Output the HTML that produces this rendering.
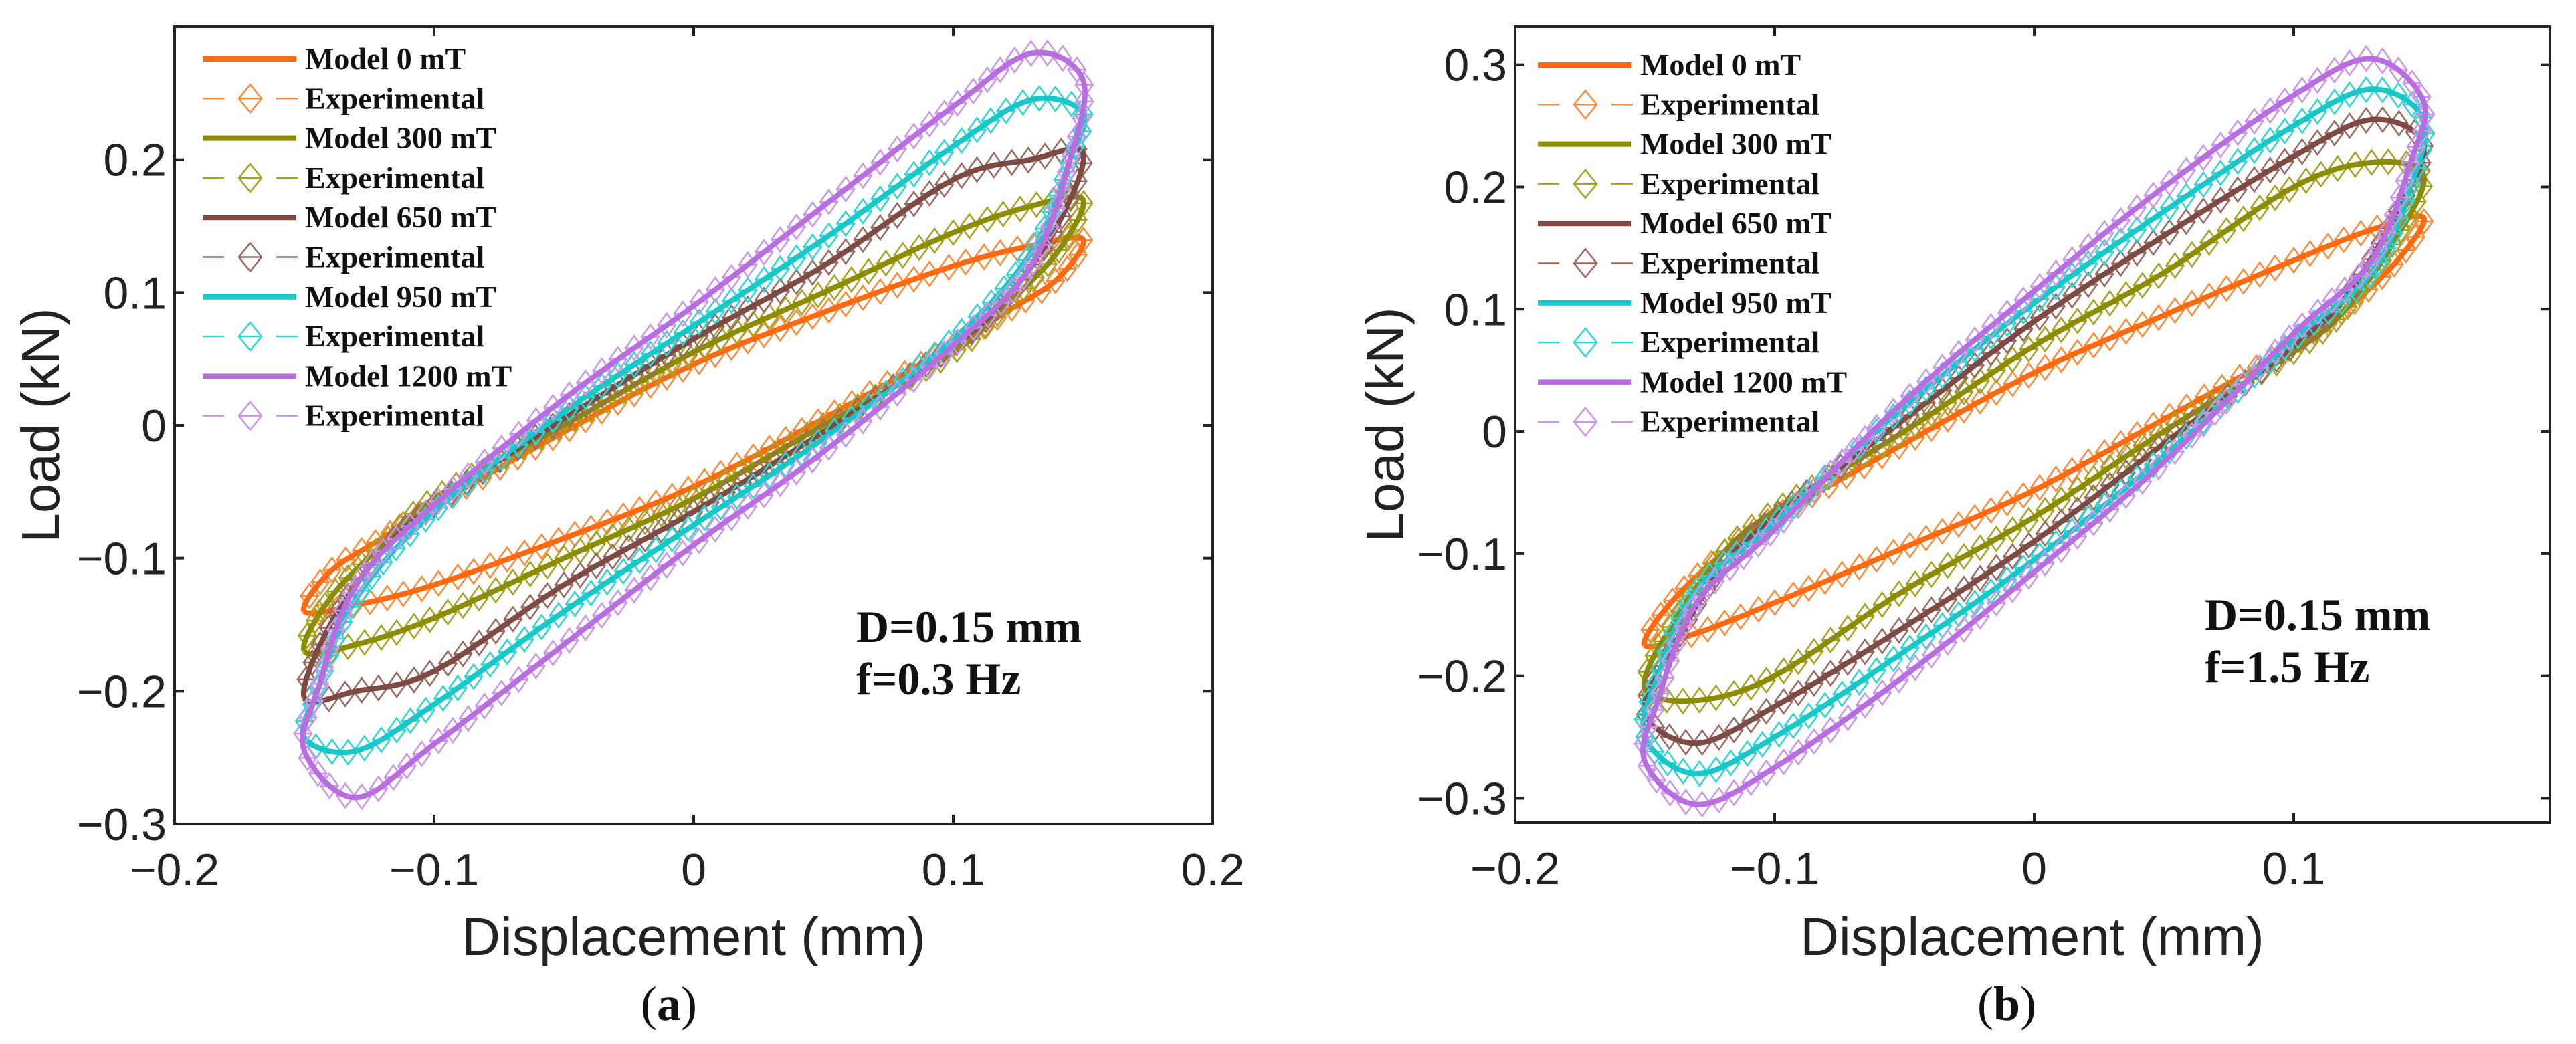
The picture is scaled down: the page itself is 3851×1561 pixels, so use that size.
<!DOCTYPE html>
<html><head><meta charset="utf-8"><style>
html,body{margin:0;padding:0;background:#fff}
svg{display:block}
text{font-family:"Liberation Sans",sans-serif}
.tick{font-size:68px;fill:#222}
.lab{font-size:80px;fill:#222}
.leg{font-family:"Liberation Serif",serif;font-weight:bold;font-size:46px;fill:#111}
.ann{font-family:"Liberation Serif",serif;font-weight:bold;font-size:68px;fill:#111}
.cap{font-family:"Liberation Serif",serif;font-size:72px;fill:#111}
</style></head><body>
<svg id="fig" width="3851" height="1561" viewBox="0 0 3851 1561" xmlns="http://www.w3.org/2000/svg"></svg>
<script>
// ---- data ----
const seriesNames = ["Model 0 mT","Model 300 mT","Model 650 mT","Model 950 mT","Model 1200 mT"];
const modelColors = ["#FF6A10","#8C8C00","#7E4B44","#18C8C8","#B86EE0"];
const expColors = ["#FF8A3A","#A4A420","#9A6A62","#30D6D6","#CC96EC"];
// upper branch (going from -x to +x) displacement & load, per series
const dispA = [
 [-0.15,-0.14,-0.12,-0.1,-0.05,0,0.05,0.1,0.13,0.15],
 [-0.15,-0.14,-0.12,-0.1,-0.05,0,0.05,0.1,0.13,0.15],
 [-0.15,-0.14,-0.12,-0.1,-0.05,0,0.05,0.1,0.13,0.15],
 [-0.15,-0.145,-0.13,-0.1,-0.05,0,0.05,0.1,0.13,0.15],
 [-0.15,-0.145,-0.13,-0.1,-0.05,0,0.05,0.1,0.13,0.15]];
const loadA = [
 [-0.14,-0.11,-0.085,-0.06,-0.005,0.046,0.085,0.12,0.135,0.14],
 [-0.17,-0.13,-0.09,-0.055,0.0,0.055,0.10,0.145,0.165,0.17],
 [-0.205,-0.15,-0.095,-0.06,0.005,0.065,0.12,0.185,0.2,0.205],
 [-0.235,-0.2,-0.13,-0.065,0.01,0.075,0.14,0.21,0.245,0.235],
 [-0.245,-0.2,-0.12,-0.06,0.02,0.09,0.165,0.24,0.28,0.26]];
const dispB = dispA;
const loadB = [
 [-0.175,-0.14,-0.1,-0.07,-0.01,0.048,0.095,0.14,0.165,0.175],
 [-0.21,-0.16,-0.1,-0.065,0.0,0.07,0.13,0.2,0.22,0.21],
 [-0.23,-0.18,-0.11,-0.07,0.01,0.09,0.16,0.225,0.255,0.235],
 [-0.25,-0.2,-0.13,-0.075,0.02,0.105,0.18,0.25,0.28,0.255],
 [-0.27,-0.22,-0.14,-0.08,0.025,0.115,0.2,0.275,0.305,0.27]];
const xTicksA = [-0.2,-0.1,0,0.1,0.2];
const xTickLabelsA = ["\u22120.2","\u22120.1","0","0.1","0.2"];
const yTicksA = [-0.3,-0.2,-0.1,0,0.1,0.2];
const yTickLabelsA = ["\u22120.3","\u22120.2","\u22120.1","0","0.1","0.2"];
const xTicksB = [-0.2,-0.1,0,0.1];
const xTickLabelsB = ["\u22120.2","\u22120.1","0","0.1"];
const yTicksB = [-0.3,-0.2,-0.1,0,0.1,0.2,0.3];
const yTickLabelsB = ["\u22120.3","\u22120.2","\u22120.1","0","0.1","0.2","0.3"];

const NS="http://www.w3.org/2000/svg";
const svg=document.getElementById('fig');
function mk(tag,attrs,parent){const e=document.createElementNS(NS,tag);for(const k in attrs)e.setAttribute(k,attrs[k]);(parent||svg).appendChild(e);return e;}

function catmull(pts,n){ // closed loop
  const out=[];const L=pts.length;
  for(let i=0;i<L;i++){
    const p0=pts[(i-1+L)%L],p1=pts[i],p2=pts[(i+1)%L],p3=pts[(i+2)%L];
    for(let s=0;s<n;s++){const t=s/n,t2=t*t,t3=t2*t;
      const f=(a,b,c,d)=>0.5*((2*b)+(-a+c)*t+(2*a-5*b+4*c-d)*t2+(-a+3*b-3*c+d)*t3);
      out.push([f(p0[0],p1[0],p2[0],p3[0]),f(p0[1],p1[1],p2[1],p3[1])]);}
  }
  out.push(out[0]);return out;
}

function panel(cfg){
  const {id,L,R,T,B,xmin,xmax,ymin,ymax,disp,load,xt,xtl,yt,ytl,legX,legY,ann1,ann2,annX,annY,ylabX,xlabX,cap,capX}=cfg;
  const g=mk('g',{});  
  const sx=v=>L+(v-xmin)/(xmax-xmin)*(R-L);
  const sy=v=>B-(v-ymin)/(ymax-ymin)*(B-T);
  const clip=mk('clipPath',{id:id+'-clip'},g); mk('rect',{x:L,y:T,width:R-L,height:B-T},clip);
  const plot=mk('g',{'clip-path':'url(#'+id+'-clip)'},g);
   
  for(let s=0;s<disp.length;s++){
    const up=disp[s].map((x,i)=>[x,load[s][i]]);
    const lo=up.slice(1,-1).map(p=>[-p[0],-p[1]]);
    const loop=up.concat(lo);
    const pts=catmull(loop,24).map(p=>[sx(p[0]),sy(p[1])]);
    const d='M'+pts.map(p=>p[0].toFixed(1)+','+p[1].toFixed(1)).join('L');
    const eg=mk('g',{},plot);
     
    mk('path',{d:d,fill:'none',stroke:expColors[s],'stroke-width':2,'stroke-dasharray':'14 8'},eg);
    let acc=0;const step=24;let dd='';
    for(let i=1;i<pts.length;i++){const dx=pts[i][0]-pts[i-1][0],dy=pts[i][1]-pts[i-1][1];acc+=Math.hypot(dx,dy);
      if(acc>=step){acc=0;const [x,y]=pts[i];dd+=`M${(x-13).toFixed(1)},${y.toFixed(1)}L${x.toFixed(1)},${(y-18).toFixed(1)}L${(x+13).toFixed(1)},${y.toFixed(1)}L${x.toFixed(1)},${(y+18).toFixed(1)}ZM${(x-13).toFixed(1)},${y.toFixed(1)}h26`;}}
    mk('path',{d:dd,fill:'none',stroke:expColors[s],'stroke-width':2.5},eg);
    const ml=mk('path',{d:d,fill:'none',stroke:modelColors[s],'stroke-width':8,'stroke-linejoin':'round'},plot);
     
  }
  const box=mk('rect',{x:L,y:T,width:R-L,height:B-T,fill:'none',stroke:'#222','stroke-width':4},g);
   
  xt.forEach((v,i)=>{const x=sx(v);
    mk('line',{x1:x,y1:B,x2:x,y2:B-14,stroke:'#222','stroke-width':4},g);
    mk('line',{x1:x,y1:T,x2:x,y2:T+14,stroke:'#222','stroke-width':4},g);
    const t=mk('text',{x:x,y:B+92,'text-anchor':'middle',class:'tick'},g);t.textContent=xtl[i];
     });
  yt.forEach((v,i)=>{const y=sy(v);
    mk('line',{x1:L,y1:y,x2:L+14,y2:y,stroke:'#222','stroke-width':4},g);
    mk('line',{x1:R,y1:y,x2:R-14,y2:y,stroke:'#222','stroke-width':4},g);
    const t=mk('text',{x:L-12,y:y+24,'text-anchor':'end',class:'tick'},g);t.textContent=ytl[i];
     });
  const xl=mk('text',{x:xlabX,y:1428,'text-anchor':'middle',class:'lab'},g);xl.textContent='Displacement (mm)';
   
  const yl=mk('text',{x:0,y:0,'text-anchor':'middle',class:'lab',transform:`translate(${ylabX},${(T+B)/2}) rotate(-90)`},g);yl.textContent='Load (kN)';
   
  const lg=mk('g',{},g);  
  for(let s=0;s<5;s++){
    const y1=legY+s*2*59.3, y2=y1+59.3;
    const e1=mk('g',{},lg);  
    mk('line',{x1:legX,y1:y1,x2:legX+140,y2:y1,stroke:modelColors[s],'stroke-width':8},e1);
    const t1=mk('text',{x:legX+153,y:y1+15,class:'leg'},e1);t1.textContent=seriesNames[s];
    const e2=mk('g',{},lg);  
    mk('line',{x1:legX,y1:y2,x2:legX+32,y2:y2,stroke:expColors[s],'stroke-width':2.5},e2);
    mk('line',{x1:legX+110,y1:y2,x2:legX+142,y2:y2,stroke:expColors[s],'stroke-width':2.5},e2);
    const cx=legX+71;
    mk('path',{d:`M${cx-17},${y2}L${cx},${y2-21}L${cx+17},${y2}L${cx},${y2+21}ZM${cx-17},${y2}h34`,fill:'none',stroke:expColors[s],'stroke-width':2.5},e2);
    const t2=mk('text',{x:legX+153,y:y2+15,class:'leg'},e2);t2.textContent='Experimental';
  }
  const a1=mk('text',{x:annX,y:annY,class:'ann'},g);a1.textContent=ann1;
   
  const a2=mk('text',{x:annX,y:annY+78,class:'ann'},g);a2.textContent=ann2;
   
  const c=mk('text',{x:capX,y:1525,'text-anchor':'middle',class:'cap'},g);
  c.innerHTML='(<tspan font-weight="bold">'+cap+'</tspan>)';
   
}
panel({id:'panel-a',L:261,R:1813,T:40,B:1232,xmin:-0.2,xmax:0.2,ymin:-0.3,ymax:0.3,disp:dispA,load:loadA,
  xt:xTicksA,xtl:xTickLabelsA,yt:yTicksA,ytl:yTickLabelsA,legX:303,legY:88,ann1:'D=0.15 mm',ann2:'f=0.3 Hz',
  annX:1280,annY:960,ylabX:88,xlabX:1037,cap:'a',capX:1000});
panel({id:'panel-b',L:2265,R:3812,T:40,B:1230,xmin:-0.2,xmax:0.1987,ymin:-0.32,ymax:0.331,disp:dispB,load:loadB,
  xt:xTicksB,xtl:xTickLabelsB,yt:yTicksB,ytl:yTickLabelsB,legX:2299,legY:97,ann1:'D=0.15 mm',ann2:'f=1.5 Hz',
  annX:3296,annY:942,ylabX:2098,xlabX:3038,cap:'b',capX:3000});
</script>
</body></html>
